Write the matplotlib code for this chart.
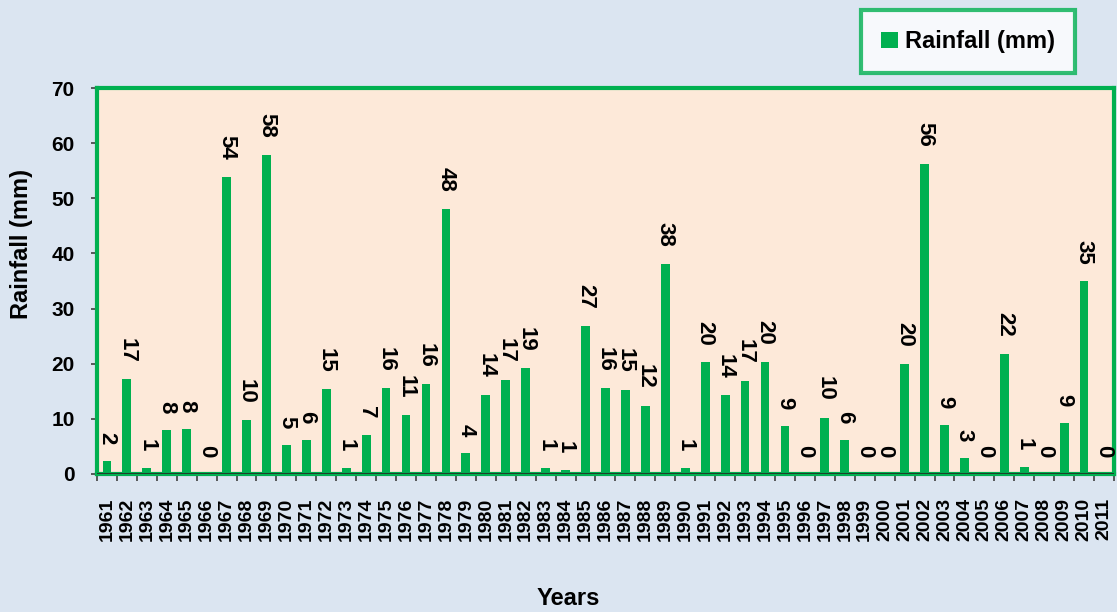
import matplotlib
matplotlib.use('Agg')
import matplotlib.pyplot as plt
from matplotlib.patches import Patch

plt.rcParams['font.family'] = ['Liberation Sans', 'DejaVu Sans']
plt.rcParams['font.weight'] = 'bold'

# 年ごとの降水量 (mm)
years = list(range(1961, 2012))
rainfall = [2.4, 17.2, 1.1, 8.0, 8.2, 0.0, 53.9, 9.8, 57.9, 5.3,
            6.2, 15.4, 1.1, 7.1, 15.6, 10.7, 16.3, 48.1, 3.8, 14.4,
            17.1, 19.2, 1.0, 0.8, 26.9, 15.6, 15.3, 12.4, 38.1, 1.0,
            20.3, 14.3, 16.9, 20.4, 8.7, 0.0, 10.2, 6.2, 0.0, 0.0,
            20.0, 56.3, 8.9, 2.9, 0.0, 21.8, 1.3, 0.0, 9.3, 35.0, 0.0]

green = '#00B050'
fig = plt.figure(figsize=(11.17, 6.12), dpi=100, facecolor='#DBE5F1')
ax = fig.add_axes([0.0868, 0.2255, 0.9105, 0.6307])
ax.set_facecolor('#FDE9D9')

x = list(range(len(years)))
bars = ax.bar(x, rainfall, width=0.44, color=green, zorder=2)

for xi, v in zip(x, rainfall):
    ax.annotate(f"{v:.0f}", xy=(xi, v), xytext=(0, 12), textcoords='offset points',
                rotation=270, ha='center', va='bottom', fontsize=16, fontweight='bold',
                color='black', zorder=3)

ax.set_xlim(-0.5, len(years) - 0.5)
ax.set_ylim(0, 70)
ax.set_yticks(range(0, 71, 10))
ax.tick_params(axis='y', labelsize=15, length=4, width=1.2, color='#404040', pad=12)

# 年ラベルは棒の中央、目盛り線はカテゴリの境界
ax.set_xticks(x)
ax.set_xticklabels([str(y) for y in years], rotation=90, fontsize=14, fontweight='bold')
ax.tick_params(axis='x', which='major', length=0, pad=17)
ax.set_xticks([i - 0.5 for i in range(len(years) + 1)], minor=True)
ax.tick_params(axis='x', which='minor', length=5, width=1.2, color='#404040')

for s in ax.spines.values():
    s.set_color(green)
    s.set_linewidth(3)
ax.axhline(0, color='#1f3f2a', lw=1.5, zorder=4)

ax.set_xlabel('Years', fontsize=17, fontweight='bold')
ax.xaxis.set_label_coords(0.4636, -0.293)
ax.set_ylabel('Rainfall (mm)', fontsize=17, fontweight='bold')
ax.yaxis.set_label_coords(-0.063, 0.596)

leg = fig.legend(handles=[Patch(facecolor=green, label='Rainfall (mm)')],
                 loc='center', bbox_to_anchor=(0.8666, 0.932),
                 frameon=True, fancybox=False, handlelength=0.7, handleheight=0.7,
                 handletextpad=0.3, borderpad=0.85, prop={'weight': 'bold', 'size': 17})
leg.get_frame().set_edgecolor(green)
leg.get_frame().set_linewidth(3)
leg.get_frame().set_facecolor('white')

plt.savefig('out.png', dpi=100, facecolor=fig.get_facecolor())
plt.close()
